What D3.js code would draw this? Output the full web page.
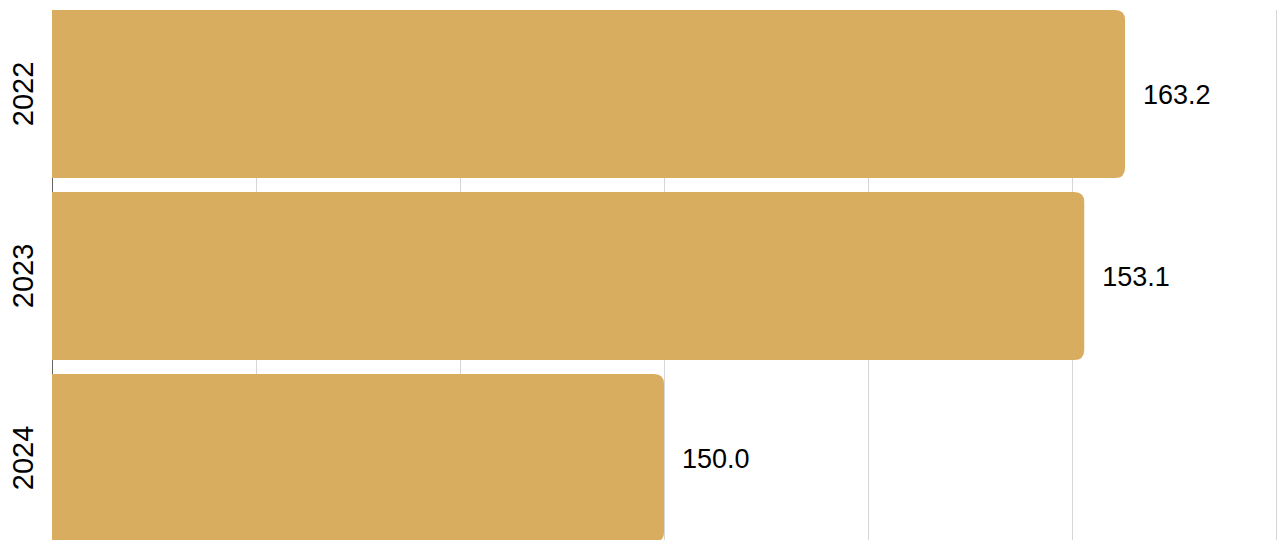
<!DOCTYPE html>
<html>
<head>
<meta charset="utf-8">
<script src="https://cdn.jsdelivr.net/npm/d3@7"></script>
<style>
  html, body { margin: 0; padding: 0; background: #fff; overflow: hidden; }
</style>
</head>
<body>
<script>
// years on the band axis
const years = ["2022", "2023", "2024"];
// bar lengths (grid units)
const barValues = [5.26, 5.06, 3.0];
// labels printed next to each bar
const valueLabels = [163.2, 153.1, 150.0];
// gridline positions
const gridTicks = [0, 1, 2, 3, 4, 5, 6];

const width = 1283;
const height = 540;
const marginLeft = 52;
const marginTop = 10;

const svg = d3.select("body")
    .append("svg")
    .attr("width", width)
    .attr("height", height);

const x = d3.scaleLinear()
    .domain([0, 6])
    .range([marginLeft, 1276]);

const y = d3.scaleBand()
    .domain(years)
    .range([marginTop, 542])
    .paddingInner(14 / 182)
    .paddingOuter(0);

// vertical gridlines
svg.append("g")
    .selectAll("line")
    .data(gridTicks.slice(1))
    .join("line")
    .attr("x1", d => Math.round(x(d)) + 0.5)
    .attr("x2", d => Math.round(x(d)) + 0.5)
    .attr("y1", marginTop)
    .attr("y2", height + 10)
    .attr("stroke", "#d6d6d6")
    .attr("stroke-width", 1);

// left axis line
svg.append("line")
    .attr("x1", marginLeft + 0.5)
    .attr("x2", marginLeft + 0.5)
    .attr("y1", marginTop)
    .attr("y2", height + 10)
    .attr("stroke", "#666")
    .attr("stroke-width", 1);

// bars, right end rounded
const r = 10;
function barPath(x0, x1, y0, h) {
    return `M${x0},${y0}H${x1 - r}Q${x1},${y0} ${x1},${y0 + r}` +
        `V${y0 + h - r}Q${x1},${y0 + h} ${x1 - r},${y0 + h}H${x0}Z`;
}

const rows = years.map((yr, i) => ({ year: yr, v: barValues[i], label: valueLabels[i] }));

svg.append("g")
    .selectAll("path")
    .data(rows)
    .join("path")
    .attr("d", d => barPath(x(0), x(d.v), y(d.year), y.bandwidth()))
    .attr("fill", "#d9ad5f");

// value labels
svg.append("g")
    .selectAll("text")
    .data(rows)
    .join("text")
    .attr("x", d => x(d.v) + 18)
    .attr("y", d => y(d.year) + y.bandwidth() / 2 + 1)
    .attr("dy", "0.35em")
    .attr("font-family", "'Liberation Sans', Arial, sans-serif")
    .attr("font-size", 27)
    .attr("fill", "#000")
    .text(d => d3.format(".1f")(d.label));

// year labels, rotated
svg.append("g")
    .selectAll("text")
    .data(years)
    .join("text")
    .attr("transform", d => `translate(33, ${y(d) + y.bandwidth() / 2}) rotate(-90)`)
    .attr("text-anchor", "middle")
    .attr("font-family", "'Liberation Sans', Arial, sans-serif")
    .attr("font-size", 29)
    .attr("fill", "#000")
    .text(d => d);
</script>
</body>
</html>
